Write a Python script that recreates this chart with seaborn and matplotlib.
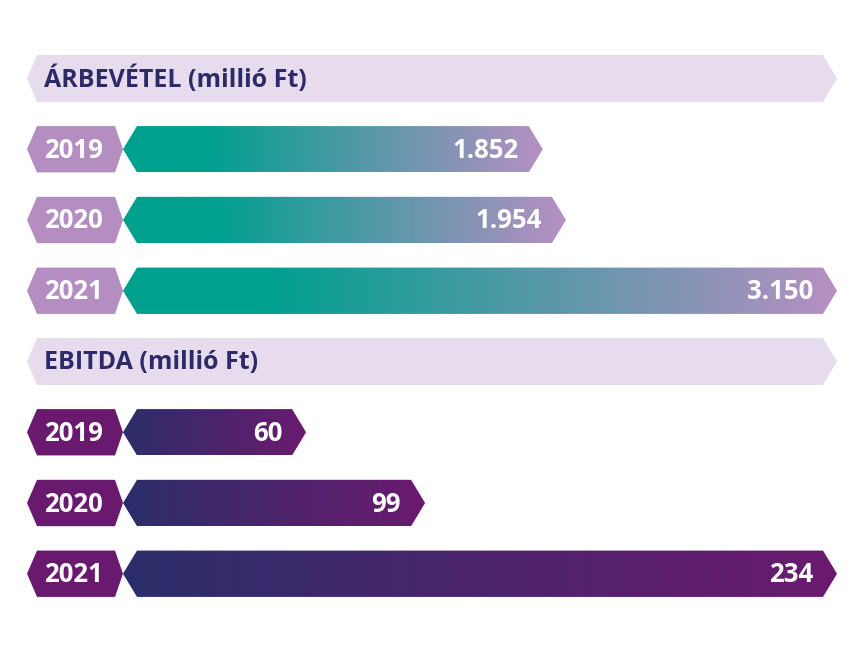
import numpy as np
import matplotlib
matplotlib.use("Agg")
import matplotlib.pyplot as plt
import seaborn as sns
from matplotlib.patches import Polygon
from matplotlib.colors import LinearSegmentedColormap

# adatok
evek = ["2019", "2020", "2021"]
arbevetel = [1852, 1954, 3150]
ebitda = [60, 99, 234]
arbevetel_cimkek = ["1.852", "1.954", "3.150"]
ebitda_cimkek = ["60", "99", "234"]
cimek = ["ÁRBEVÉTEL (millió Ft)", "EBITDA (millió Ft)"]

sns.set_style("white")
plt.rcParams['font.family'] = ['Open Sans', 'DejaVu Sans']

W, H = 861, 649
fig = plt.figure(figsize=(W / 100, H / 100), dpi=100)

# háttér tengely pixel koordinátákban
bg = fig.add_axes([0, 0, 1, 1], zorder=2)
bg.axis('off')
bg.patch.set_alpha(0)

SOR = 70.75          # sorok távolsága (px)
X0, X1 = 123, 837    # sávok kezdete / maximum hegye
BAL = 27             # címkék bal széle
BETU = 18.5          # betűméret
SULY = 'bold'

szekciok = [
    dict(ertekek=arbevetel, cimkek=arbevetel_cimkek, cim=cimek[0], felso=78.5,
         jelveny='#B48EC0', szinek=[(0, '#00A08F'), (0.2, '#00A08F'), (1, '#B690C2')]),
    dict(ertekek=ebitda, cimkek=ebitda_cimkek, cim=cimek[1], felso=78.5 + 4 * SOR,
         jelveny='#6A1A6E', szinek=[(0, '#2B2E6A'), (1, '#6B1A6F')]),
]


def hatszog(x0, x1, y0, y1, d_bal, d_jobb):
    ym = (y0 + y1) / 2
    return [(x0 + d_bal, y0), (x1 - d_jobb, y0), (x1, ym),
            (x1 - d_jobb, y1), (x0 + d_bal, y1), (x0, ym)]


for sz in szekciok:
    # seaborn tengely a sávok skálázásához
    teteje = sz['felso'] - SOR / 2
    alja = teteje + 4 * SOR
    ax = fig.add_axes([X0 / W, 1 - alja / H, (X1 - X0) / W, 4 * SOR / H], zorder=1)
    sns.barplot(x=sz['ertekek'], y=evek, orient='h', ax=ax, width=0.655, color='k')
    ax.set_xlim(0, max(sz['ertekek']))
    ax.set_ylim(2.5, -1.5)
    ax.axis('off')
    ax.patch.set_alpha(0)

    # fejléc sáv
    fy = sz['felso']
    fej = Polygon(hatszog(BAL, X1, fy - 23.5, fy + 23.5, 10, 14), closed=True,
                  facecolor='#E6DCEE', edgecolor='none')
    bg.add_patch(fej)
    bg.text(44, fy + 1, sz['cim'], color='#2D2B67', fontsize=18, fontweight=SULY,
            va='center', ha='left')

    cmap = LinearSegmentedColormap.from_list('grad', sz['szinek'])
    for p, ev, cimke in zip(ax.patches, evek, sz['cimkek']):
        bb = p.get_bbox()
        (px0, py0), (px1, py1) = ax.transData.transform([(bb.x0, bb.y0), (bb.x1, bb.y1)])
        xa, xb = px0, px1
        ya, yb = sorted([H - py0, H - py1])
        p.set_visible(False)

        # évszám jelvény
        jel = Polygon(hatszog(BAL, xa, ya, yb, 10, 8), closed=True,
                      facecolor=sz['jelveny'], edgecolor='none')
        bg.add_patch(jel)
        bg.text((BAL + xa) / 2 - 2, (ya + yb) / 2 + 1, ev, color='white', fontsize=BETU,
                fontweight=SULY, ha='center', va='center')

        # színátmenetes sáv
        sav = Polygon(hatszog(xa, xb, ya, yb, 14, 14), closed=True,
                      facecolor='none', edgecolor='none')
        bg.add_patch(sav)
        grad = np.linspace(0, 1, 256).reshape(1, -1)
        im = bg.imshow(grad, cmap=cmap, extent=[xa, xb, yb, ya], aspect='auto',
                       interpolation='bilinear')
        im.set_clip_path(sav)
        bg.text(xb - 24, (ya + yb) / 2 + 1, cimke, color='white', fontsize=BETU,
                fontweight=SULY, ha='right', va='center')

bg.set_xlim(0, W)
bg.set_ylim(H, 0)

fig.savefig("out.png", dpi=100, facecolor='white')
